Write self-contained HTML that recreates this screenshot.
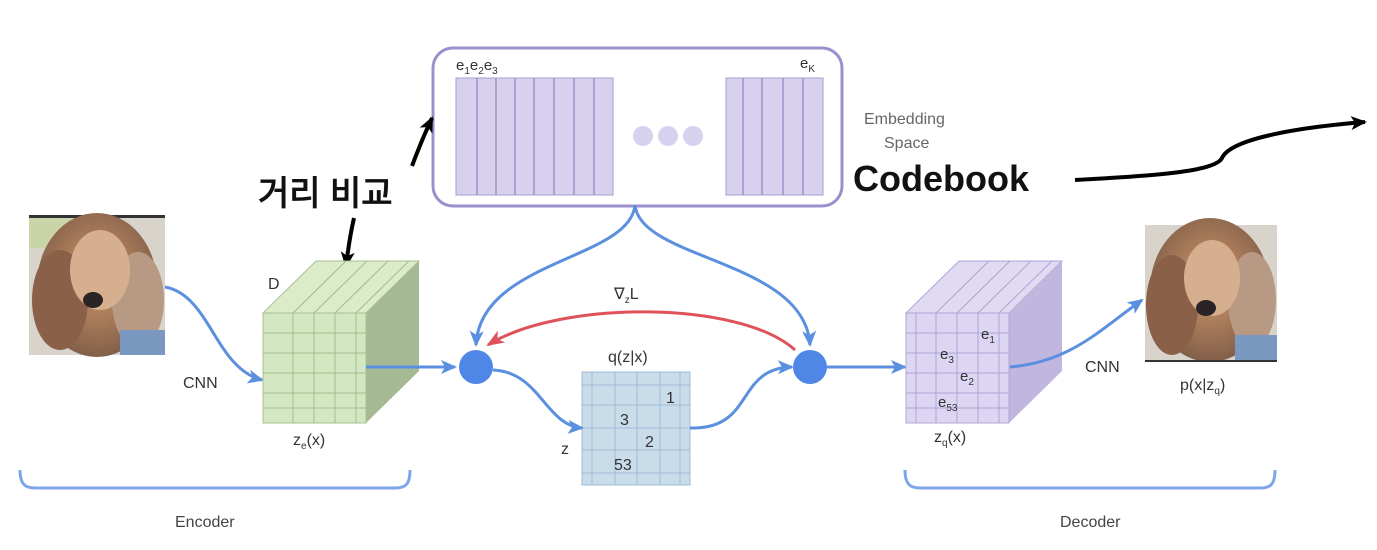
<!DOCTYPE html>
<html><head><meta charset="utf-8"><style>
html,body{margin:0;padding:0;background:#fff;}
svg{display:block;}
text{font-family:"Liberation Sans",sans-serif;}
</style></head><body>
<svg width="1377" height="550" viewBox="0 0 1377 550" xmlns="http://www.w3.org/2000/svg">
<defs>
<marker id="ab" markerWidth="10" markerHeight="10" refX="8" refY="5" orient="auto" markerUnits="userSpaceOnUse"><path d="M0,0 L10,5 L0,10 Z" fill="#5b8fe0"/></marker>
<marker id="abig" markerWidth="16" markerHeight="14" refX="14" refY="7" orient="auto" markerUnits="userSpaceOnUse"><path d="M0,0 L16,7 L0,14 L4,7 Z" fill="#5b8fe0"/></marker>
<marker id="ar" markerWidth="18" markerHeight="14" refX="16" refY="7" orient="auto" markerUnits="userSpaceOnUse"><path d="M0,0 L18,7 L0,14 L5,7 Z" fill="#e0525a"/></marker>
<marker id="ak" markerWidth="16" markerHeight="14" refX="14" refY="7" orient="auto" markerUnits="userSpaceOnUse"><path d="M0,0 L16,7 L0,14 L4,7 Z" fill="#000"/></marker>
<radialGradient id="dog" cx="50%" cy="45%" r="60%"><stop offset="0" stop-color="#c89a73"/><stop offset="0.5" stop-color="#a87a58"/><stop offset="1" stop-color="#7a5a48"/></radialGradient>
</defs>

<rect x="433" y="48" width="409" height="158" rx="20" fill="#fff" stroke="#9d8fcc" stroke-width="3"/>
<rect x="456" y="78" width="157" height="117" fill="#d8d1ee" stroke="#a79bd0"/>
<g stroke="#9e92c8" stroke-width="1.5">
<line x1="477" y1="78" x2="477" y2="195"/><line x1="496" y1="78" x2="496" y2="195"/><line x1="515" y1="78" x2="515" y2="195"/><line x1="534" y1="78" x2="534" y2="195"/><line x1="554" y1="78" x2="554" y2="195"/><line x1="574" y1="78" x2="574" y2="195"/><line x1="594" y1="78" x2="594" y2="195"/>
</g>
<rect x="726" y="78" width="97" height="117" fill="#d8d1ee" stroke="#a79bd0"/>
<g stroke="#9e92c8" stroke-width="1.5">
<line x1="743" y1="78" x2="743" y2="195"/><line x1="762" y1="78" x2="762" y2="195"/><line x1="783" y1="78" x2="783" y2="195"/><line x1="803" y1="78" x2="803" y2="195"/>
</g>
<circle cx="643" cy="136" r="10" fill="#d8d1ee"/><circle cx="668" cy="136" r="10" fill="#d8d1ee"/><circle cx="693" cy="136" r="10" fill="#d8d1ee"/>
<text x="456" y="70" font-size="15" fill="#333">e<tspan font-size="10" dy="4">1</tspan><tspan dy="-4">e</tspan><tspan font-size="10" dy="4">2</tspan><tspan dy="-4">e</tspan><tspan font-size="10" dy="4">3</tspan></text>
<text x="800" y="68" font-size="15" fill="#333">e<tspan font-size="10" dy="4">K</tspan></text>

<text x="864" y="124" font-size="16" fill="#666">Embedding</text>
<text x="884" y="148" font-size="16" fill="#666">Space</text>
<text x="853" y="191" font-size="36" font-weight="bold" fill="#111">Codebook</text>
<path d="M1075,180 C1150,176 1215,172 1222,158 C1230,140 1290,128 1365,122" fill="none" stroke="#000" stroke-width="4" marker-end="url(#ak)"/>

<text x="258" y="205" font-size="34" font-weight="bold" fill="#111" font-family="'Liberation Sans','Noto Sans CJK KR',sans-serif">거리 비교</text>
<path d="M412,166 C418,150 424,135 432,118" fill="none" stroke="#000" stroke-width="4" marker-end="url(#ak)"/>
<path d="M354,218 C350,235 348,250 346,266" fill="none" stroke="#000" stroke-width="4" marker-end="url(#ak)"/>

<rect x="29" y="215" width="136" height="140" fill="#d8d4cc"/>
<rect x="29" y="215" width="136" height="3" fill="#333"/>
<rect x="29" y="218" width="50" height="30" fill="#c9d4a8"/>
<ellipse cx="97" cy="285" rx="60" ry="72" fill="url(#dog)"/>
<ellipse cx="60" cy="300" rx="28" ry="50" fill="#8a6048"/>
<ellipse cx="138" cy="300" rx="26" ry="48" fill="#b89a84"/>
<ellipse cx="100" cy="270" rx="30" ry="40" fill="#d6b08e"/>
<ellipse cx="93" cy="300" rx="10" ry="8" fill="#2a2426"/>
<rect x="120" y="330" width="45" height="25" fill="#7a98c0"/>

<rect x="1145" y="225" width="132" height="137" fill="#d8d4cc"/>
<ellipse cx="1210" cy="290" rx="60" ry="72" fill="url(#dog)"/>
<ellipse cx="1172" cy="305" rx="26" ry="50" fill="#8a6048"/>
<ellipse cx="1252" cy="300" rx="24" ry="48" fill="#b89a84"/>
<ellipse cx="1212" cy="278" rx="28" ry="38" fill="#d6b08e"/>
<ellipse cx="1206" cy="308" rx="10" ry="8" fill="#2a2426"/>
<rect x="1235" y="335" width="42" height="27" fill="#7a98c0"/>
<rect x="1145" y="360" width="132" height="2" fill="#333"/>

<path d="M165,287 C210,295 215,368 262,380" fill="none" stroke="#5b8fe0" stroke-width="3" marker-end="url(#abig)"/>
<text x="183" y="388" font-size="16" fill="#333">CNN</text>

<polygon points="263,313 316,261 419,261 366,313" fill="#dcebc8" stroke="#a8c294"/>
<polygon points="366,313 419,261 419,371 366,423" fill="#a5b994"/>
<rect x="263" y="313" width="103" height="110" fill="#d3e8c2" stroke="#a8c294"/>
<g stroke="#9fbf8c" stroke-width="1">
<line x1="293" y1="313" x2="346" y2="261"/><line x1="314" y1="313" x2="367" y2="261"/><line x1="335" y1="313" x2="388" y2="261"/><line x1="356" y1="313" x2="409" y2="261"/>
<line x1="293" y1="313" x2="293" y2="423"/><line x1="314" y1="313" x2="314" y2="423"/><line x1="335" y1="313" x2="335" y2="423"/><line x1="356" y1="313" x2="356" y2="423"/>
<line x1="263" y1="333" x2="366" y2="333"/><line x1="263" y1="353" x2="366" y2="353"/><line x1="263" y1="373" x2="366" y2="373"/><line x1="263" y1="393" x2="366" y2="393"/><line x1="263" y1="408" x2="366" y2="408"/>
</g>
<text x="268" y="289" font-size="16" fill="#333">D</text>
<text x="293" y="445" font-size="16" fill="#333">z<tspan font-size="10" dy="4">e</tspan><tspan dy="-4">(x)</tspan></text>
<line x1="366" y1="367" x2="455" y2="367" stroke="#5b8fe0" stroke-width="3" marker-end="url(#abig)"/>

<path d="M635,205 C630,260 480,260 476,345" fill="none" stroke="#5b8fe0" stroke-width="3" marker-end="url(#abig)"/>
<path d="M635,205 C640,260 805,260 810,345" fill="none" stroke="#5b8fe0" stroke-width="3" marker-end="url(#abig)"/>
<path d="M795,350 C740,300 560,300 488,345" fill="none" stroke="#e0525a" stroke-width="3" marker-end="url(#ar)"/>
<text x="614" y="299" font-size="16" fill="#333">∇<tspan font-size="10" dy="4">z</tspan><tspan dy="-4">L</tspan></text>

<circle cx="476" cy="367" r="17" fill="#4e87e6"/>
<circle cx="810" cy="367" r="17" fill="#4e87e6"/>

<rect x="582" y="372" width="108" height="113" fill="#c8dcea" stroke="#9fbcd4"/>
<g stroke="#9fbcd4" stroke-width="1">
<line x1="592" y1="372" x2="592" y2="485"/><line x1="615" y1="372" x2="615" y2="485"/><line x1="637" y1="372" x2="637" y2="485"/><line x1="660" y1="372" x2="660" y2="485"/><line x1="680" y1="372" x2="680" y2="485"/>
<line x1="582" y1="385" x2="690" y2="385"/><line x1="582" y1="405" x2="690" y2="405"/><line x1="582" y1="428" x2="690" y2="428"/><line x1="582" y1="450" x2="690" y2="450"/><line x1="582" y1="473" x2="690" y2="473"/>
</g>
<text x="608" y="362" font-size="16" fill="#333">q(z|x)</text>
<text x="666" y="403" font-size="16" fill="#333">1</text>
<text x="620" y="425" font-size="16" fill="#333">3</text>
<text x="645" y="447" font-size="16" fill="#333">2</text>
<text x="614" y="470" font-size="16" fill="#333">53</text>
<text x="561" y="454" font-size="16" fill="#333">z</text>
<path d="M493,370 C540,372 545,425 582,428" fill="none" stroke="#5b8fe0" stroke-width="3" marker-end="url(#abig)"/>
<path d="M690,428 C755,430 735,368 792,367" fill="none" stroke="#5b8fe0" stroke-width="3" marker-end="url(#abig)"/>
<line x1="827" y1="367" x2="905" y2="367" stroke="#5b8fe0" stroke-width="3" marker-end="url(#abig)"/>

<polygon points="906,313 959,261 1062,261 1009,313" fill="#e0daf2" stroke="#b0a6d6"/>
<polygon points="1009,313 1062,261 1062,371 1009,423" fill="#c0b6de"/>
<rect x="906" y="313" width="103" height="110" fill="#ddd6f2" stroke="#b0a6d6"/>
<g stroke="#aea4d6" stroke-width="1">
<line x1="936" y1="313" x2="989" y2="261"/><line x1="957" y1="313" x2="1010" y2="261"/><line x1="978" y1="313" x2="1031" y2="261"/><line x1="999" y1="313" x2="1052" y2="261"/>
<line x1="916" y1="313" x2="916" y2="423"/><line x1="936" y1="313" x2="936" y2="423"/><line x1="957" y1="313" x2="957" y2="423"/><line x1="978" y1="313" x2="978" y2="423"/><line x1="999" y1="313" x2="999" y2="423"/>
<line x1="906" y1="333" x2="1009" y2="333"/><line x1="906" y1="353" x2="1009" y2="353"/><line x1="906" y1="373" x2="1009" y2="373"/><line x1="906" y1="393" x2="1009" y2="393"/><line x1="906" y1="408" x2="1009" y2="408"/>
</g>
<text x="981" y="339" font-size="15" fill="#333">e<tspan font-size="10" dy="4">1</tspan></text>
<text x="940" y="359" font-size="15" fill="#333">e<tspan font-size="10" dy="4">3</tspan></text>
<text x="960" y="381" font-size="15" fill="#333">e<tspan font-size="10" dy="4">2</tspan></text>
<text x="938" y="407" font-size="15" fill="#333">e<tspan font-size="10" dy="4">53</tspan></text>
<text x="934" y="442" font-size="16" fill="#333">z<tspan font-size="10" dy="4">q</tspan><tspan dy="-4">(x)</tspan></text>
<path d="M1010,367 C1070,362 1100,330 1142,300" fill="none" stroke="#5b8fe0" stroke-width="3" marker-end="url(#abig)"/>
<text x="1085" y="372" font-size="16" fill="#333">CNN</text>
<text x="1180" y="390" font-size="16" fill="#333">p(x|z<tspan font-size="10" dy="4">q</tspan><tspan dy="-4">)</tspan></text>

<path d="M20,470 C20,488 28,488 40,488 L395,488 C405,488 410,485 410,470" fill="none" stroke="#7fa6e6" stroke-width="3"/>
<text x="175" y="527" font-size="16" fill="#444">Encoder</text>
<path d="M905,470 C905,488 913,488 925,488 L1260,488 C1270,488 1275,485 1275,470" fill="none" stroke="#7fa6e6" stroke-width="3"/>
<text x="1060" y="527" font-size="16" fill="#444">Decoder</text>
</svg>
</body></html>
